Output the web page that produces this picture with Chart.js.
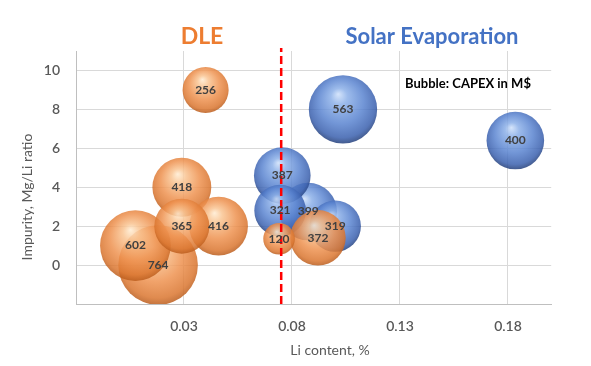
<!DOCTYPE html>
<html>
<head>
<meta charset="utf-8">
<script src="https://cdn.jsdelivr.net/npm/chart.js@4"></script>
<style>
  html, body { margin: 0; padding: 0; background: #fff; }
  #wrap { width: 591px; height: 366px; }
</style>
</head>
<body>
<div id="wrap"><canvas id="bubbleChart" width="591" height="366"></canvas></div>
<script>
// DLE projects: Li content (%), Mg/Li ratio, CAPEX (M$)
const dleLi = [0.018, 0.0075, 0.029, 0.046, 0.092, 0.029, 0.040, 0.074];
const dleMgLi = [0, 1, 4, 2, 1.4, 2, 9, 1.35];
const dleCapex = [764, 602, 418, 416, 372, 365, 256, 120];

// Solar evaporation projects
const solarLi = [0.1036, 0.1834, 0.0875, 0.0755, 0.0745, 0.100];
const solarMgLi = [8, 6.4, 2.75, 4.6, 2.8, 2.0];
const solarCapex = [563, 400, 399, 387, 321, 319];

const xTicks = [-0.02, 0.03, 0.08, 0.13, 0.18];
const yTicks = [-2, 0, 2, 4, 6, 8, 10];
const splitLi = 0.075;

document.addEventListener('DOMContentLoaded', () => {

  const bubbleScale = 1.44;
  const toPoints = (xs, ys, caps) => xs.map((x, i) => ({
      x: x, y: ys[i], r: bubbleScale * Math.sqrt(caps[i]), capex: caps[i]
  }));

  const sphere = (stops, flat) => context => {
      const chart = context.chart;
      const raw = context.raw;
      if (!raw || !chart.chartArea) return flat;
      const cx = chart.scales.x.getPixelForValue(raw.x);
      const cy = chart.scales.y.getPixelForValue(raw.y);
      const r = raw.r;
      const g = chart.ctx.createRadialGradient(cx - r * 0.14, cy - r * 0.45, 0, cx, cy - r * 0.1, r * 1.1);
      stops.forEach(s => g.addColorStop(s[0], s[1]));
      return g;
  };

  const orangeStops = [
      [0, 'rgba(255,236,210,0.85)'], [0.22, 'rgba(249,196,146,0.85)'],
      [0.6, 'rgba(238,146,80,0.85)'], [0.88, 'rgba(218,118,48,0.85)'], [1, 'rgba(186,92,28,0.85)']
  ];
  const blueStops = [
      [0, 'rgba(206,224,250,0.85)'], [0.22, 'rgba(140,176,232,0.85)'],
      [0.6, 'rgba(90,132,208,0.85)'], [0.88, 'rgba(58,96,174,0.85)'], [1, 'rgba(34,62,122,0.85)']
  ];

  const overlay = {
      id: 'overlay',
      afterDatasetsDraw(chart) {
          const c = chart.ctx;
          c.save();
          c.textAlign = 'center';
          c.textBaseline = 'middle';
          c.fillStyle = '#404040';
          c.font = 'bold 12px Lato';
          [0, 1].forEach(di => {
              chart.getDatasetMeta(di).data.forEach((el, i) => {
                  c.fillText(chart.data.datasets[di].data[i].capex, el.x, el.y);
              });
          });
          c.restore();
      },
      afterDraw(chart) {
          const c = chart.ctx;
          c.save();
          c.textAlign = 'center';
          c.textBaseline = 'middle';
          c.font = 'bold 23px Lato';
          c.fillStyle = '#ED7D31';
          c.fillText('DLE', 202, 37);
          c.font = 'bold 22px Lato';
          c.fillStyle = '#4472C4';
          c.fillText('Solar Evaporation', 432, 37);
          c.font = 'bold 13px Lato';
          c.fillStyle = '#000000';
          c.fillText('Bubble: CAPEX in M$', 468, 84);
          c.font = '14px Lato';
          c.fillStyle = '#595959';
          c.fillText('Li content, %', 330, 350);
          c.translate(27, 197);
          c.rotate(-Math.PI / 2);
          c.fillText('Impurity, Mg/Li ratio', 0, 0);
          c.restore();
      }
  };

  const ctx = document.getElementById('bubbleChart').getContext('2d');
  const bubbleChart = new Chart(ctx, {
      type: 'bubble',
      data: {
          datasets: [{
              label: 'Solar Evaporation',
              data: toPoints(solarLi, solarMgLi, solarCapex),
              backgroundColor: sphere(blueStops, '#4472C4'),
              borderWidth: 0,
              order: 3
          }, {
              label: 'DLE',
              data: toPoints(dleLi, dleMgLi, dleCapex),
              backgroundColor: sphere(orangeStops, '#ED7D31'),
              borderWidth: 0,
              order: 2
          }, {
              type: 'line',
              label: 'split',
              data: [{ x: splitLi, y: -2 }, { x: splitLi, y: 11.15 }],
              borderColor: '#FF0000',
              borderWidth: 2.5,
              borderDash: [8, 4],
              pointRadius: 0,
              fill: false,
              clip: false,
              order: 1
          }]
      },
      options: {
          responsive: false,
          animation: false,
          events: [],
          layout: { padding: { top: 51, right: 27, left: 0, bottom: 0 } },
          plugins: {
              legend: { display: false },
              tooltip: { enabled: false }
          },
          scales: {
              x: {
                  type: 'linear',
                  min: -0.02,
                  max: 0.2,
                  afterBuildTicks: axis => { axis.ticks = xTicks.map(v => ({ value: v })); },
                  afterFit: axis => { axis.height = 62; },
                  ticks: {
                      padding: 14,
                      color: '#595959',
                      font: { family: 'Lato', size: 14, weight: '600' },
                      callback: v => v < 0 ? '' : v.toFixed(2)
                  },
                  grid: { color: '#d9d9d9', lineWidth: 1, drawTicks: false },
                  border: { color: '#bfbfbf', width: 1 }
              },
              y: {
                  type: 'linear',
                  min: -2,
                  max: 11,
                  afterBuildTicks: axis => { axis.ticks = yTicks.map(v => ({ value: v })); },
                  afterFit: axis => { axis.width = 76; },
                  ticks: {
                      padding: 16,
                      color: '#595959',
                      font: { family: 'Lato', size: 14, weight: '600' },
                      callback: v => v < 0 ? '' : v
                  },
                  grid: { color: '#d9d9d9', lineWidth: 1, drawTicks: false },
                  border: { color: '#bfbfbf', width: 1 }
              }
          }
      },
      plugins: [overlay]
  });
});
</script>
</body>
</html>
